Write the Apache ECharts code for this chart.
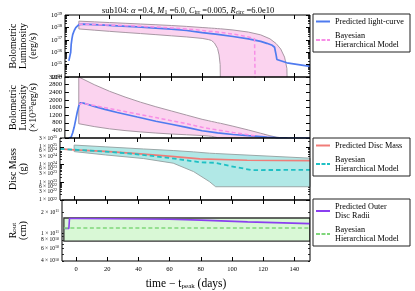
<!DOCTYPE html>
<html><head><meta charset="utf-8">
<script src="https://cdn.jsdelivr.net/npm/echarts@6/dist/echarts.min.js"></script>
<style>html,body{margin:0;padding:0;background:#fff}#c{width:415px;height:291px}</style>
</head><body><div id="c"></div>
<script>
// ---------------- DATA ----------------
const xTickValues = [0, 20, 40, 60, 80, 100, 120, 140];

// light curve, in units of 1e35 erg/s
const lcTime = [-6.5,-5.6,-5.3,-5.0,-4.5,-4,-3,-2,-1,0,1,3,6,10,17,25,38,50,60,70,80,90,100,110,118,122,125.5,127,128,128.5,129.5,135,150];
const lcLum  = [2.0,2.0,10,40,120,260,560,950,1350,1680,1850,1830,1760,1660,1500,1340,1100,880,720,560,380,270,185,120,75,52,36,25,6,2.6,2.0,1.4,0.72];
const bhmLcTime = [0,2,5,10,20,30,40,50,60,70,80,90,100,110,114,114.6];
const bhmLcLum  = [1750,1820,1780,1700,1540,1390,1230,1070,910,750,560,420,290,170,120,0.001];
const lcBandTime = [0,10,20,30,40,50,60,70,80,84,86,88,90,91,91.7,92,100,110,118,124,128,131,133.5,135,135.5];
const lcBandHigh = [3200,2800,2450,2150,1880,1640,1420,1200,980,910,870,840,800,785,775,770,620,420,250,120,50,18,4,0.5,0.001];
const lcBandLow  = [750,600,480,390,320,260,210,170,130,105,89,55,20,6,1,0.001,0.001,0.001,0.001,0.001,0.001,0.001,0.001,0.001,0.001];

// disc mass, g
const massTime = [-9,0,20,40,60,80,110,150];
const massPred = [7.6e24,6.8e24,5.5e24,4.2e24,3.0e24,2.1e24,1.75e24,1.66e24];
const bhmMassTime = [-9,0,20,38,60,80,90,100,113,150];
const bhmMass = [7.6e24,6.9e24,5.4e24,4.0e24,2.4e24,1.35e24,1.26e24,8e23,4.9e23,5.0e23];
const massBandTime = [0,20,44,63,76,86,90,150];
const massBandHigh = [1.26e25,1.0e25,7.6e24,6.2e24,5.2e24,4.4e24,4.2e24,2.3e24];
const massBandLow  = [5.4e24,3.5e24,2.2e24,1.2e24,4e23,1.1e23,5.6e22,5.6e22];

// outer disc radius, cm
const radTime = [-7.3,-4.6,-4.2,0,60,80,110,150];
const radPred = [1.17e11,1.17e11,1.62e11,1.62e11,1.58e11,1.54e11,1.45e11,1.37e11];
const bhmRadTime = [-7.8,150];
const bhmRad = [1.19e11,1.19e11];
const radBandTime = [-7.8,150];
const radBandHigh = [1.65e11,1.65e11];
const radBandLow  = [7.7e10,7.7e10];

// tick labels
const lumLogLabels = [[34,'34'],[35,'35'],[36,'36'],[37,'37'],[38,'38'],[39,'39']];
const lumLinLabels = [400,800,1200,1600,2000,2400,2800,3200];
const massLabels = [[3e25,'3','25'],[1e25,'1','25'],[6e24,'6','24'],[3e24,'3','24'],[1e24,'1','24'],[6e23,'6','23'],[3e23,'3','23'],[1e23,'1','23'],[6e22,'6','22'],[3e22,'3','22'],[1e22,'1','22']];
const radLabels = [[4e10,'4','10'],[6e10,'6','10'],[8e10,'8','10'],[1e11,'1','11'],[2e11,'2','11']];

// ---------------- CHART ----------------
const FONT = '"Liberation Serif","DejaVu Serif",serif';
const lg = Math.log10;
const GL = 59, GW = 251;
const tops = [15, 77, 138, 200];
const heights = [62, 61, 62, 62];

function minorLogs(lo, hi) {
  const r = [];
  for (let n = Math.floor(lo); n <= Math.ceil(hi); n++) {
    for (let k = 1; k <= 9; k++) {
      const v = n + lg(k);
      if (v >= lo - 1e-9 && v <= hi + 1e-9) r.push(v);
    }
  }
  return r;
}
function nearest(list, v) {
  let best = null, bd = 1e9;
  list.forEach(it => { const d = Math.abs(it[0] - v); if (d < bd) { bd = d; best = it; } });
  return best;
}

const grids = tops.map((t, i) => ({left: GL, width: GW, top: t, height: heights[i], show: true, borderColor: '#000', borderWidth: 1, backgroundColor: 'transparent', z: 5}));

const xAxes = [];
for (let i = 0; i < 4; i++) {
  ['bottom', 'top'].forEach((pos, j) => {
    const main = (i === 3 && j === 0);
    xAxes.push({
      gridIndex: i, type: 'value', min: -9, max: 150, position: pos,
      axisLine: {show: false, onZero: false}, splitLine: {show: false},
      axisTick: {show: true, inside: true, length: 4, customValues: xTickValues, lineStyle: {color: '#000', width: 1}},
      axisLabel: {show: main, customValues: xTickValues, fontFamily: FONT, fontSize: 6.5, color: '#000', margin: 5},
      name: main ? 'time \u2212 t{s|peak} (days)' : '',
      nameLocation: 'middle', nameGap: 17,
      nameTextStyle: {fontFamily: FONT, fontSize: 11.5, color: '#000', rich: {s: {fontFamily: FONT, fontSize: 7, color: '#000', verticalAlign: 'bottom', padding: [4, 0, 0, 0]}}}
    });
  });
}

const supRich = {
  b: {fontFamily: FONT, fontSize: 6.5, color: '#000'},
  s: {fontFamily: FONT, fontSize: 4.5, color: '#000', verticalAlign: 'top', padding: [0, 0, 3, 0]}
};
const smallRich = {
  b: {fontFamily: FONT, fontSize: 5.5, color: '#000'},
  s: {fontFamily: FONT, fontSize: 4, color: '#000', verticalAlign: 'top', padding: [0, 0, 3, 0]}
};

const panels = [
  {min: 34, max: 39, majors: [34,35,36,37,38,39], minors: minorLogs(34, 39),
   labelValues: lumLogLabels.map(d => d[0]),
   fmt: v => { const it = nearest(lumLogLabels, v); return '{b|10}{s|' + it[1] + '}'; }, rich: supRich,
   name: 'Bolometric\nLuminosity\n(erg/s)', nameGap: 27},
  {min: 0, max: 3200, majors: [0,400,800,1200,1600,2000,2400,2800,3200], minors: [],
   labelValues: lumLinLabels, fmt: v => '{b|' + Math.round(v) + '}', rich: supRich,
   name: 'Bolometric\nLuminosity\n(\u00d710{s|35}erg/s)', nameGap: 26},
  {min: 22, max: 25.5, majors: [22,23,24,25], minors: minorLogs(22, 25.5),
   labelValues: massLabels.map(d => lg(d[0])),
   fmt: v => { const it = nearest(massLabels.map(d => [lg(d[0]), d[1], d[2]]), v); return '{b|' + it[1] + ' \u00d7 10}{s|' + it[2] + '}'; }, rich: smallRich,
   name: 'Disc Mass\n(g)', nameGap: 26},
  {min: lg(4e10), max: 11.475, majors: [11], minors: minorLogs(lg(4e10), 11.475),
   labelValues: radLabels.map(d => lg(d[0])),
   fmt: v => { const it = nearest(radLabels.map(d => [lg(d[0]), d[1], d[2]]), v); return '{b|' + it[1] + ' \u00d7 10}{s|' + it[2] + '}'; }, rich: smallRich,
   name: 'R{d|out}\n(cm)', nameGap: 34}
];

const nameRich = {
  s: {fontFamily: FONT, fontSize: 7, color: '#000', verticalAlign: 'top', padding: [0, 0, 4, 0]},
  d: {fontFamily: FONT, fontSize: 7, color: '#000', verticalAlign: 'bottom', padding: [4, 0, 0, 0]}
};

const yAxes = [];
panels.forEach((p, i) => {
  const base = {gridIndex: i, type: 'value', min: p.min, max: p.max, splitLine: {show: false}, axisLine: {show: false, onZero: false}};
  yAxes.push(Object.assign({}, base, {
    position: 'left',
    axisTick: {show: true, inside: true, length: 4, customValues: p.majors, lineStyle: {color: '#000', width: 1}},
    axisLabel: {show: true, customValues: p.labelValues, formatter: p.fmt, rich: p.rich, margin: 3, color: '#000', fontFamily: FONT},
    name: p.name, nameLocation: 'middle', nameRotate: 90, nameGap: p.nameGap,
    nameTextStyle: {fontFamily: FONT, fontSize: 10, lineHeight: 10, color: '#000', rich: nameRich}
  }));
  yAxes.push(Object.assign({}, base, {position: 'right',
    axisTick: {show: true, inside: true, length: 4, customValues: p.majors, lineStyle: {color: '#000', width: 1}},
    axisLabel: {show: false}}));
  yAxes.push(Object.assign({}, base, {position: 'left',
    axisTick: {show: p.minors.length > 0, inside: true, length: 2, customValues: p.minors.length ? p.minors : [p.min], lineStyle: {color: '#000', width: 0.8}},
    axisLabel: {show: false}}));
  yAxes.push(Object.assign({}, base, {position: 'right',
    axisTick: {show: p.minors.length > 0, inside: true, length: 2, customValues: p.minors.length ? p.minors : [p.min], lineStyle: {color: '#000', width: 0.8}},
    axisLabel: {show: false}}));
});

const series = [];
function line(name, gi, times, vals, tf, color, width, dash, z) {
  series.push({
    type: 'line', name: name, xAxisIndex: 2 * gi, yAxisIndex: 4 * gi, symbol: 'none', silent: true,
    data: times.map((t, k) => [t, tf(vals[k])]), z: z || 3, animation: false,
    lineStyle: {color: color, width: width, type: dash || 'solid'}, itemStyle: {color: color}
  });
}
function band(prefix, gi, times, lo, hi, tf, fill, edge, edgeW) {
  const loT = lo.map(tf), hiT = hi.map(tf);
  const poly = times.map((t, k) => [t, hiT[k]]).concat(times.map((t, k) => [t, loT[k]]).reverse());
  series.push({
    type: 'custom', name: prefix, xAxisIndex: 2 * gi, yAxisIndex: 4 * gi, silent: true, z: 1, clip: true, animation: false,
    data: times.map((t, k) => [t, loT[k], hiT[k]]),
    encode: {x: 0, y: [1, 2]},
    renderItem: function (params, api) {
      if (params.dataIndex !== 0) return null;
      const pts = poly.map(p => api.coord(p));
      return {type: 'polygon', shape: {points: pts}, style: {fill: fill, stroke: edge, lineWidth: edgeW}};
    }
  });
}

const toLog35 = v => lg(v) + 35;
const ident = v => v;

// panel 1
band('b1', 0, lcBandTime, lcBandLow, lcBandHigh, toLog35, '#fbd3ef', '#a898a4', 1);
line('lc', 0, lcTime, lcLum, toLog35, '#4f7bef', 1.7);
line('bhm1', 0, bhmLcTime, bhmLcLum, toLog35, '#f78ee6', 1.5, [4, 2.5]);
// panel 2
band('b2', 1, lcBandTime, lcBandLow, lcBandHigh, ident, '#fbd3ef', '#a898a4', 1);
line('lc_lin', 1, lcTime, lcLum, ident, '#4f7bef', 1.7);
line('bhm1_lin', 1, bhmLcTime, bhmLcLum, ident, '#f78ee6', 1.5, [4, 2.5]);
// panel 3
band('b3', 2, massBandTime, massBandLow, massBandHigh, lg, '#b1e8e6', '#9aa8a8', 1);
line('dm', 2, massTime, massPred, lg, '#f07c78', 1.7);
line('bhm2', 2, bhmMassTime, bhmMass, lg, '#1fc0c4', 1.8, [4.5, 3]);
// panel 4
band('b4', 3, radBandTime, radBandLow, radBandHigh, lg, '#d9f8d6', '#333333', 1.3);
line('rout', 3, radTime, radPred, lg, '#8a3ff0', 1.6);
line('bhm3', 3, bhmRadTime, bhmRad, lg, '#7fd67a', 1.5, [4, 2.5]);

const legendNames = {
  lc: 'Predicted light-curve', bhm1: 'Bayesian\nHierarchical Model',
  dm: 'Predicted Disc Mass', bhm2: 'Bayesian\nHierarchical Model',
  rout: 'Predicted Outer\nDisc Radii', bhm3: 'Bayesian\nHierarchical Model'
};
const SOLID = 'path://M0,0h14v2h-14z';
const DASH = 'path://M0,0h4v2h-4zM5.5,0h4v2h-4zM11,0h3v2h-3z';
function mkLegend(items, top) {
  return {
    data: items.map(it => ({name: it[0], icon: it[1] ? DASH : SOLID})),
    top: top, left: 313, orient: 'vertical', selectedMode: false,
    itemGap: 5, itemWidth: 14, itemHeight: 2, padding: [3, 3, 3, 3],
    borderColor: '#222', borderWidth: 1, borderRadius: 0, backgroundColor: '#fff',
    formatter: n => legendNames[n],
    textStyle: {fontFamily: FONT, fontSize: 8.2, lineHeight: 9, color: '#000', width: 72}
  };
}

const option = {
  animation: false,
  backgroundColor: '#fff',
  title: {
    text: 'sub104: {i|\u03b1} =0.4, {i|M}{s|1} =6.0, {i|C}{s|irr} =0.005, {i|R}{s|circ} =6.0e10',
    left: 97, top: 1,
    textStyle: {fontFamily: FONT, fontSize: 8.5, fontWeight: 'normal', color: '#000',
      rich: {i: {fontFamily: FONT, fontSize: 8.5, fontStyle: 'italic', color: '#000'},
             s: {fontFamily: FONT, fontSize: 5.8, color: '#000', verticalAlign: 'bottom', padding: [3, 0, 0, 0]}}}
  },
  legend: [mkLegend([['lc', 0], ['bhm1', 1]], 14), mkLegend([['dm', 0], ['bhm2', 1]], 138), mkLegend([['rout', 0], ['bhm3', 1]], 199)],
  grid: grids,
  xAxis: xAxes,
  yAxis: yAxes,
  series: series
};

const chart = echarts.init(document.getElementById('c'), null, {renderer: 'canvas'});
chart.setOption(option);
</script>
</body></html>
